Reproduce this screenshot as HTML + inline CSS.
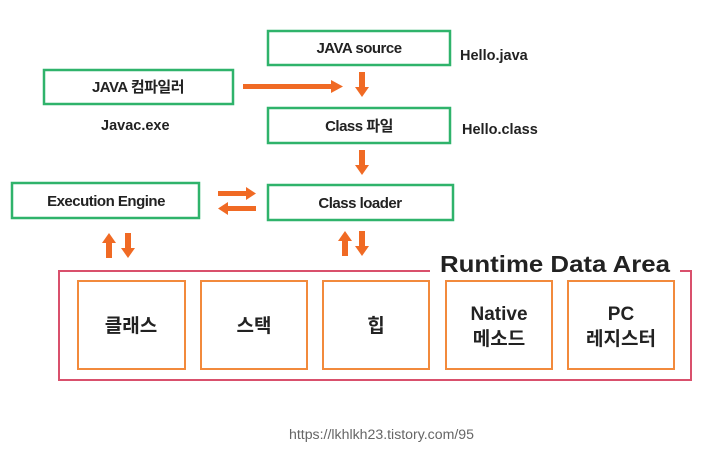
<!DOCTYPE html>
<html><head><meta charset="utf-8"><style>
html,body{margin:0;padding:0;background:#fff;width:719px;height:451px;overflow:hidden}
svg text{font-family:"Liberation Sans","Noto Sans CJK KR",sans-serif;font-weight:bold;fill:#222}
</style></head><body>
<svg width="719" height="451" viewBox="0 0 719 451" xmlns="http://www.w3.org/2000/svg">
<defs>
<g id="dn"><rect x="-3" y="0" width="6" height="16" fill="#f06a24"/><polygon points="-7,15 7,15 0,25" fill="#f06a24"/></g>
</defs>
<g fill="none" stroke="#2fb36b" stroke-width="2.5">
<rect x="268" y="31" width="182" height="34"/>
<rect x="44" y="70" width="189" height="34"/>
<rect x="268" y="108" width="182" height="35"/>
<rect x="12" y="183" width="187" height="35"/>
<rect x="268" y="185" width="185" height="35"/>
</g>
<g font-size="15" text-anchor="middle" letter-spacing="-0.5">
<text x="359" y="53">JAVA source</text>
<text x="138" y="92">JAVA 컴파일러</text>
<text x="359" y="131">Class 파일</text>
<text x="106" y="206">Execution Engine</text>
<text x="360" y="208">Class loader</text>
</g>
<g font-size="14.5">
<text x="460" y="60">Hello.java</text>
<text x="101" y="130">Javac.exe</text>
<text x="462" y="134">Hello.class</text>
</g>
<rect x="243" y="84" width="90" height="5" fill="#f06a24"/><polygon points="331,80 343,86.5 331,93" fill="#f06a24"/>
<use href="#dn" x="362" y="72"/>
<use href="#dn" x="362" y="150"/>
<rect x="218" y="191" width="30" height="5" fill="#f06a24"/><polygon points="246,187 256,193.5 246,200" fill="#f06a24"/>
<rect x="228" y="206" width="28" height="5" fill="#f06a24"/><polygon points="228,202 218,208.5 228,215" fill="#f06a24"/>
<use href="#dn" x="109" y="258" transform="rotate(180 109 258)"/>
<use href="#dn" x="128" y="233"/>
<use href="#dn" x="345" y="256" transform="rotate(180 345 256)"/>
<use href="#dn" x="362" y="231"/>
<path d="M430 271 H59 V380 H691 V271 H680" fill="none" stroke="#d9506c" stroke-width="2"/>
<text x="440" y="272" font-size="23" fill="#111" textLength="230" lengthAdjust="spacingAndGlyphs">Runtime Data Area</text>
<g fill="none" stroke="#f28a3c" stroke-width="2">
<rect x="78" y="281" width="107" height="88"/>
<rect x="201" y="281" width="106" height="88"/>
<rect x="323" y="281" width="106" height="88"/>
<rect x="446" y="281" width="106" height="88"/>
<rect x="568" y="281" width="106" height="88"/>
</g>
<g font-size="19" text-anchor="middle">
<text x="131" y="332">클래스</text>
<text x="254" y="332">스택</text>
<text x="376" y="332">힙</text>
<text x="499" y="320">Native</text>
<text x="499" y="345">메소드</text>
<text x="621" y="320">PC</text>
<text x="621" y="345">레지스터</text>
</g>
<text x="289" y="439" font-size="13.5" textLength="185" lengthAdjust="spacingAndGlyphs" style="font-weight:normal;fill:#666">https://lkhlkh23.tistory.com/95</text>
</svg>
</body></html>
